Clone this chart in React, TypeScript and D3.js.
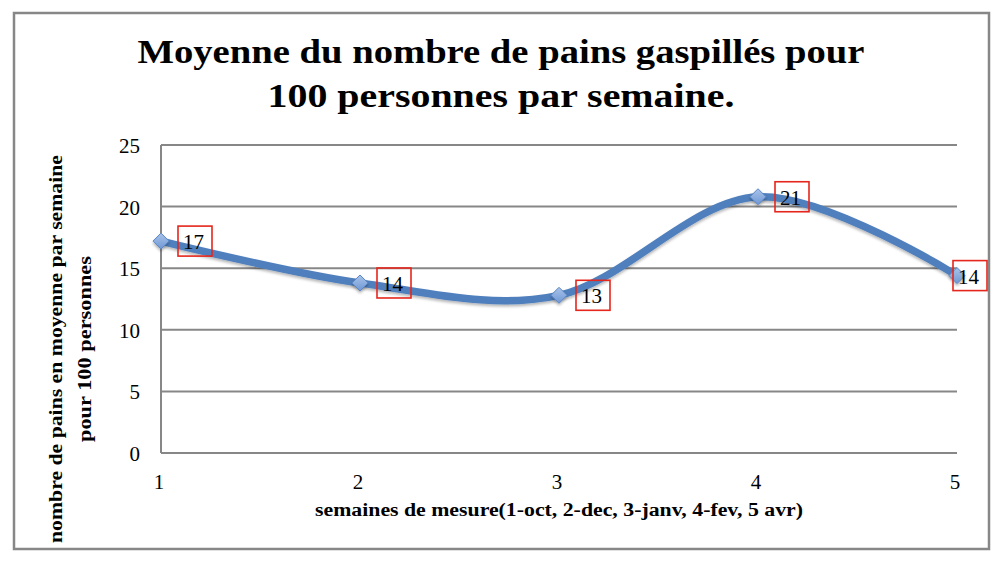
import React from "react";
import * as d3 from "d3";

const weeks = [1, 2, 3, 4, 5];
const values = [17.2, 13.8, 12.8, 20.8, 14.4];
const valueLabels = ["17", "14", "13", "21", "14"];
const yTicks = [0, 5, 10, 15, 20, 25];
const titleLines = ["Moyenne du nombre de pains gaspillés pour", "100 personnes par semaine."];
const yTitleLines = ["nombre de pains en moyenne par semaine", "pour 100 personnes"];
const xTitle = "semaines de mesure(1-oct, 2-dec, 3-janv,  4-fev,  5 avr)";

const W = 1002;
const H = 562;
const GRAY = "#878787";
const BLUE = "#4f7fbc";
const SERIF = "'Liberation Serif', 'DejaVu Serif', serif";

export default function App() {
  const x = d3.scaleLinear().domain([1, 5]).range([161, 957]);
  const y = d3.scaleLinear().domain([0, 25]).range([453, 145]);
  const pts = weeks.map((w, i) => [x(w), y(values[i])] as [number, number]);
  const line = d3.line().curve(d3.curveCardinal.tension(0))(pts) || "";
  const chartRight = 989;

  return (
    <svg width={W} height={H} style={{ position: "absolute", left: 0, top: 0, background: "#fff" }} fontFamily={SERIF}>
      <defs>
        <filter id="sh" x="-10%" y="-10%" width="120%" height="130%">
          <feGaussianBlur in="SourceAlpha" stdDeviation="1.5" />
          <feOffset dx="0" dy="2" result="b" />
          <feComponentTransfer><feFuncA type="linear" slope="0.3" /></feComponentTransfer>
          <feMerge><feMergeNode /><feMergeNode in="SourceGraphic" /></feMerge>
        </filter>
        <linearGradient id="mk" x1="0" y1="0" x2="0" y2="1">
          <stop offset="0" stopColor="#a9c3ea" />
          <stop offset="1" stopColor="#6f98d4" />
        </linearGradient>
      </defs>
      <rect x={14} y={13} width={chartRight - 14} height={549 - 13} fill="#fff" stroke={GRAY} strokeWidth={2.5} />

      {titleLines.map((t, i) => (
        <text key={i} x={501} y={63 + i * 43.5} textAnchor="middle" fontSize={33} fontWeight="bold"
          textLength={i === 0 ? 727 : 467} lengthAdjust="spacingAndGlyphs" fill="#000">{t}</text>
      ))}

      {yTicks.map((t) => (
        <g key={t}>
          {t > 0 && <line x1={x(1)} x2={x(5)} y1={y(t)} y2={y(t)} stroke={GRAY} strokeWidth={2} />}
          <text x={140} y={y(t) + 8} textAnchor="end" fontSize={21} fill="#000">{t}</text>
        </g>
      ))}
      <line x1={x(1)} x2={x(1)} y1={y(25)} y2={y(0)} stroke={GRAY} strokeWidth={2} />
      <line x1={x(1)} x2={x(5)} y1={y(0)} y2={y(0)} stroke={GRAY} strokeWidth={2} />

      {weeks.map((w) => (
        <text key={w} x={x(w) - 2} y={489} textAnchor="middle" fontSize={21} fill="#000">{w}</text>
      ))}

      <text x={559} y={516} textAnchor="middle" fontSize={18} fontWeight="bold" textLength={488} lengthAdjust="spacingAndGlyphs">{xTitle}</text>

      {yTitleLines.map((t, i) => (
        <text key={i} transform={`translate(${62 + i * 29},349) rotate(-90)`} textAnchor="middle" fontSize={18}
          fontWeight="bold" textLength={i === 0 ? 388 : 186} lengthAdjust="spacingAndGlyphs">{t}</text>
      ))}

      <path d={line} fill="none" stroke={BLUE} strokeWidth={7.5} strokeLinecap="round" filter="url(#sh)" />

      {pts.map(([px, py], i) => (
        <path key={i} d={`M${px},${py - 8}L${px + 8},${py}L${px},${py + 8}L${px - 8},${py}Z`} fill="url(#mk)"
          stroke="#5b86c4" strokeWidth={1} filter="url(#sh)" />
      ))}

      {pts.map(([px, py], i) => {
        const bx = Math.min(px + 17, chartRight - 36);
        return (
          <g key={i}>
            <rect x={bx} y={py - 15} width={34} height={30} fill="none" stroke="#e5261c" strokeWidth={1.6} />
            <text x={bx + 5} y={py + 8} fontSize={21} fill="#000">{valueLabels[i]}</text>
          </g>
        );
      })}
    </svg>
  );
}
